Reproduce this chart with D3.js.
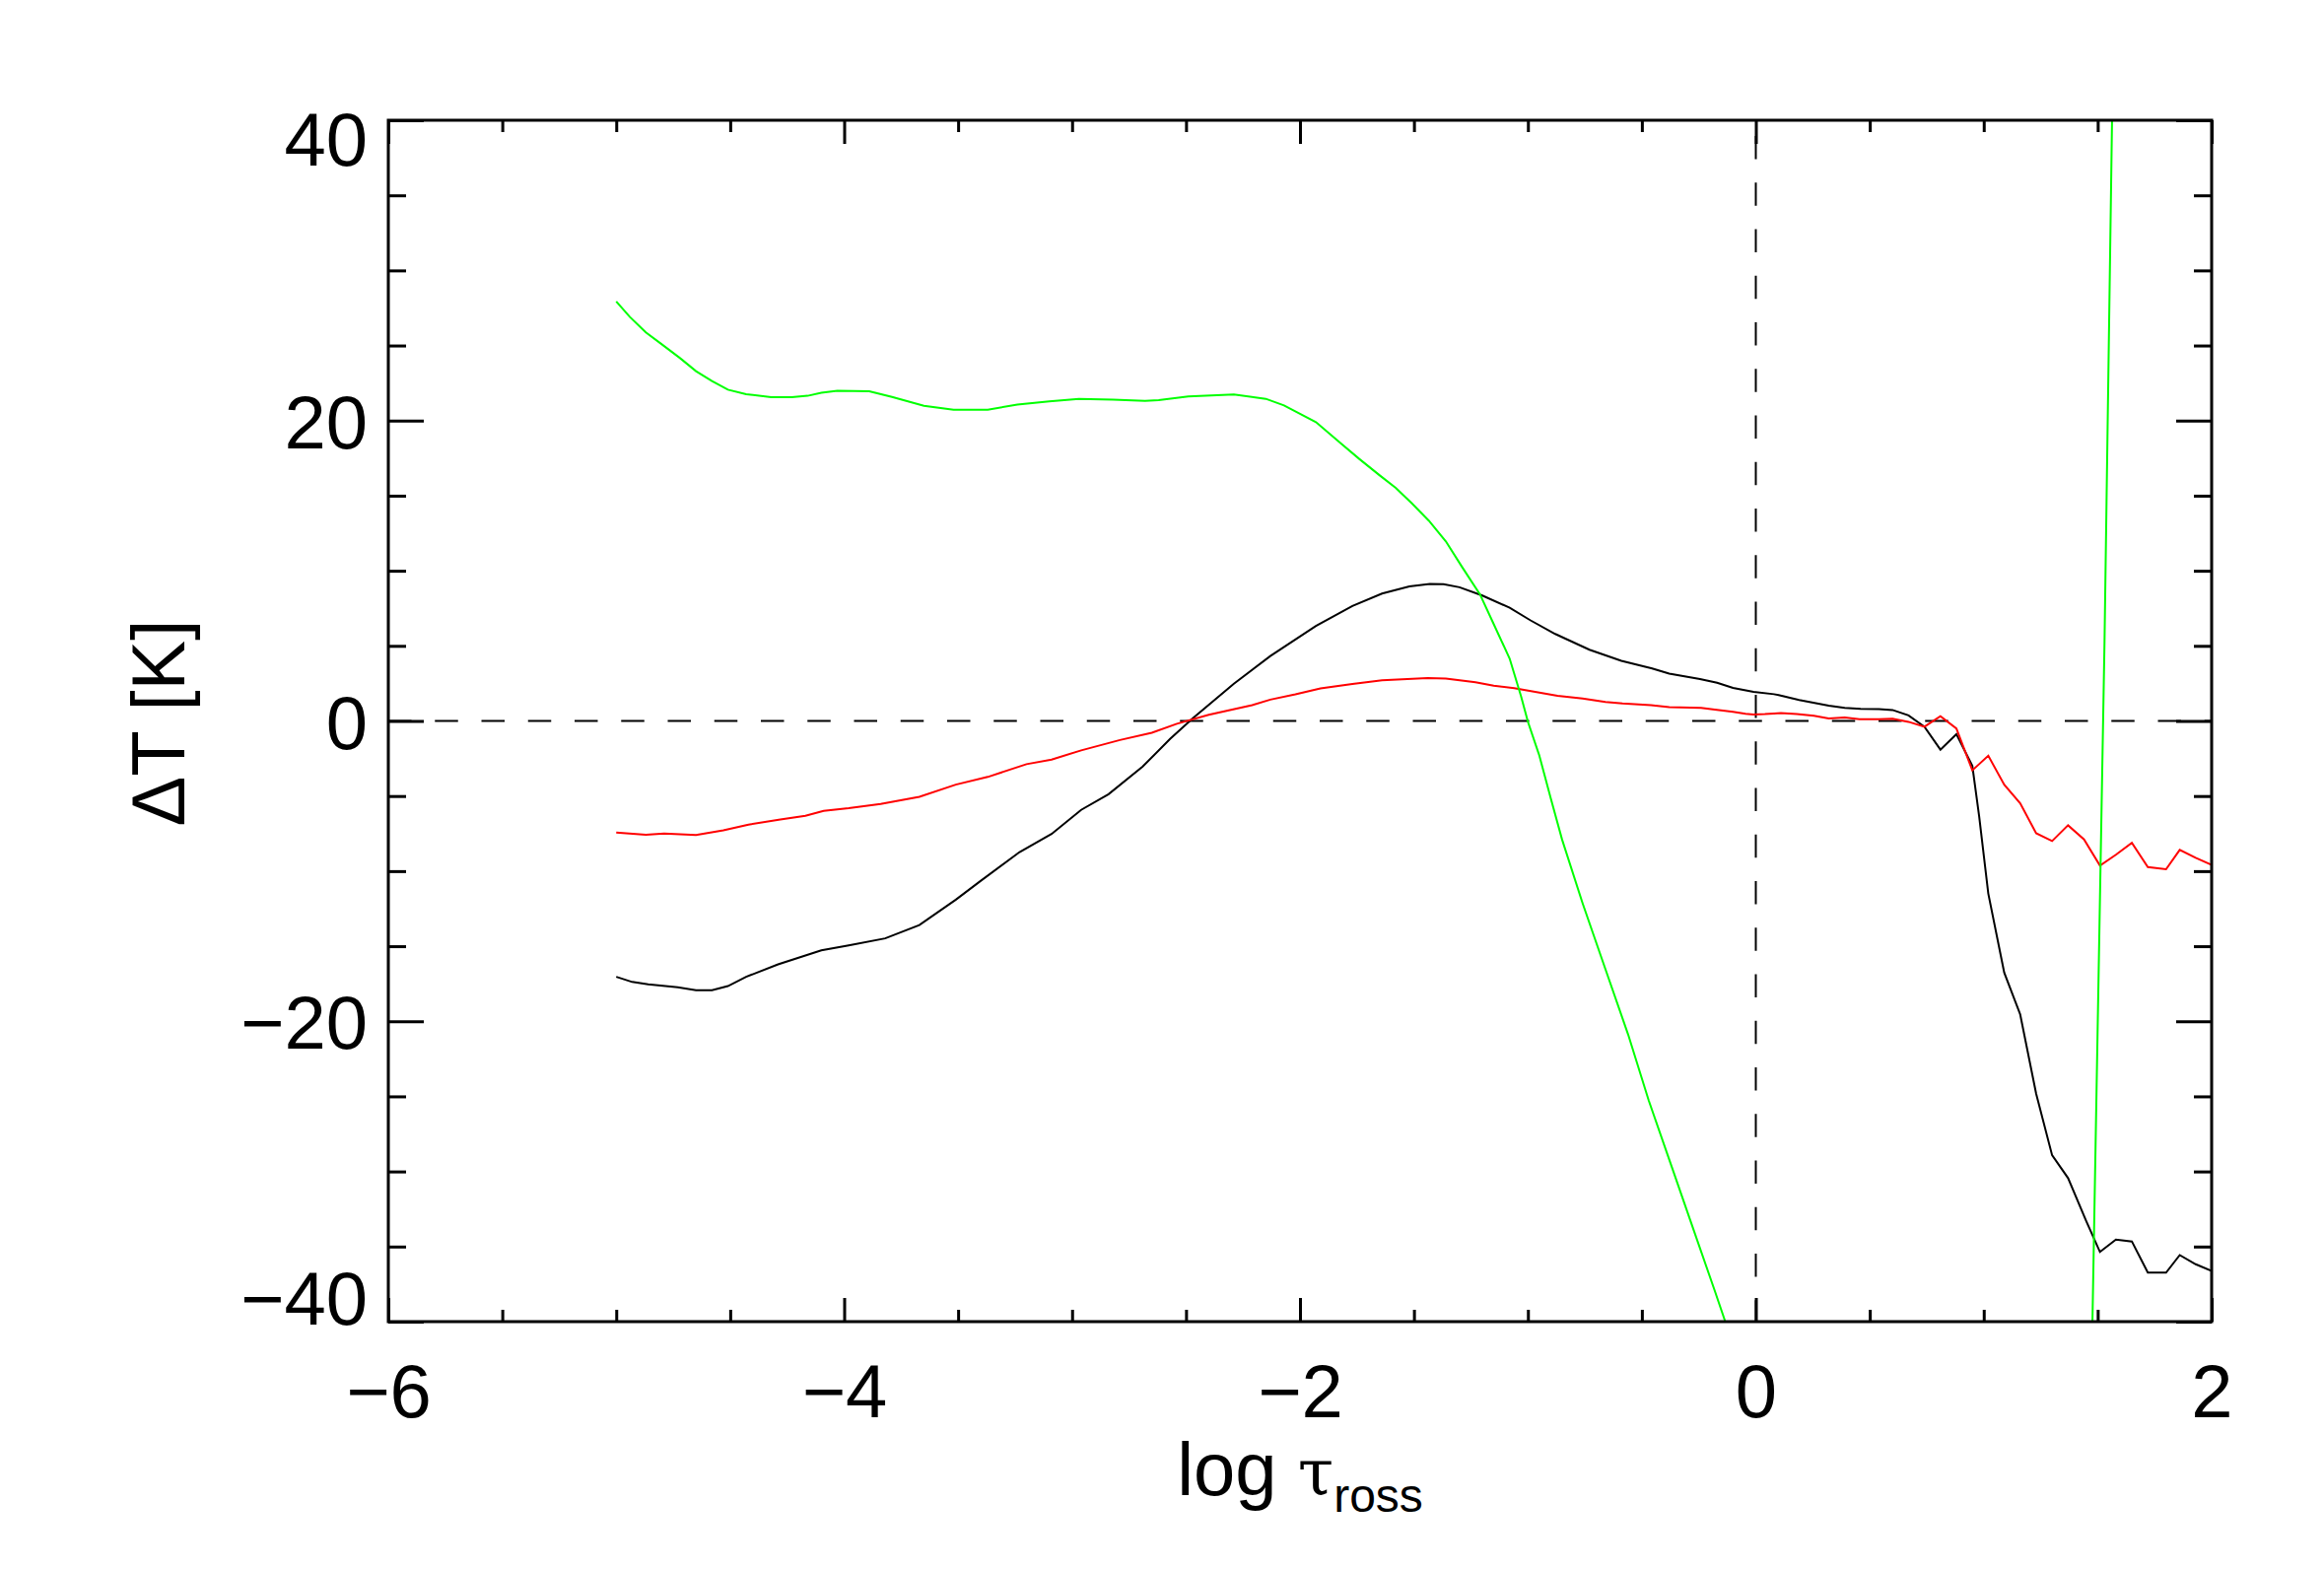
<!DOCTYPE html>
<html>
<head>
<meta charset="utf-8">
<script src="https://cdn.jsdelivr.net/npm/d3@7"></script>
<style>
  html, body { margin: 0; padding: 0; background: #ffffff; }
  svg { display: block; }
</style>
</head>
<body>
<svg id="chart" width="2358" height="1592"></svg>
<script>
// ---------------- data ----------------
const xDomain = [-6, 2];
const yDomain = [-40, 40];
const xMajorTicks = [-6, -4, -2, 0, 2];
const xMinorTicks = [-5.5, -5, -4.5, -3.5, -3, -2.5, -1.5, -1, -0.5, 0.5, 1, 1.5];
const yMajorTicks = [-40, -20, 0, 20, 40];
const yMinorTicks = [-35, -30, -25, -15, -10, -5, 5, 10, 15, 25, 30, 35];
const xLabelMain = "log ";
const xLabelGreek = "τ";
const xLabelSub = "ross";
const yLabel = "ΔT [K]";

// black series
const blackX = [-5.00, -4.93, -4.86, -4.73, -4.65, -4.58, -4.51, -4.43, -4.29, -4.10, -3.98, -3.82, -3.67, -3.51, -3.40, -3.23, -3.09, -2.96, -2.84, -2.69, -2.57, -2.47, -2.29, -2.13, -1.93, -1.77, -1.64, -1.52, -1.43, -1.37, -1.30, -1.20, -1.08, -0.99, -0.88, -0.73, -0.59, -0.455, -0.38, -0.245, -0.17, -0.10, -0.01, 0.08, 0.10, 0.19, 0.32, 0.39, 0.46, 0.54, 0.60, 0.67, 0.74, 0.81, 0.88, 0.95, 0.98, 1.02, 1.09, 1.16, 1.23, 1.30, 1.37, 1.45, 1.51, 1.58, 1.65, 1.72, 1.80, 1.86, 1.93, 2.00];
const blackY = [-17.04, -17.38, -17.54, -17.73, -17.93, -17.93, -17.66, -17.04, -16.21, -15.27, -14.94, -14.48, -13.59, -11.90, -10.64, -8.73, -7.53, -5.92, -4.88, -3.04, -1.20, 0.18, 2.48, 4.32, 6.32, 7.66, 8.48, 8.96, 9.12, 9.10, 8.90, 8.35, 7.54, 6.71, 5.79, 4.74, 4.00, 3.49, 3.15, 2.79, 2.54, 2.20, 1.94, 1.78, 1.72, 1.40, 1.02, 0.87, 0.81, 0.78, 0.73, 0.37, -0.39, -1.91, -0.88, -2.99, -6.36, -11.49, -16.76, -19.54, -24.82, -28.92, -30.44, -33.31, -35.36, -34.54, -34.66, -36.74, -36.74, -35.57, -36.18, -36.62];

// red series
const redX = [-5.00, -4.87, -4.79, -4.65, -4.53, -4.42, -4.28, -4.17, -4.09, -3.98, -3.84, -3.67, -3.51, -3.37, -3.20, -3.09, -2.96, -2.79, -2.65, -2.54, -2.40, -2.21, -2.13, -2.02, -1.91, -1.77, -1.64, -1.44, -1.36, -1.23, -1.15, -1.06, -0.87, -0.76, -0.66, -0.585, -0.46, -0.38, -0.24, -0.18, -0.10, -0.045, -0.01, 0.04, 0.08, 0.11, 0.18, 0.255, 0.32, 0.39, 0.455, 0.54, 0.60, 0.67, 0.74, 0.81, 0.88, 0.95, 1.02, 1.09, 1.16, 1.23, 1.30, 1.37, 1.44, 1.51, 1.58, 1.65, 1.72, 1.80, 1.86, 1.93, 2.00];
const redY = [-7.44, -7.58, -7.49, -7.60, -7.28, -6.91, -6.56, -6.31, -5.99, -5.81, -5.53, -5.05, -4.24, -3.73, -2.88, -2.58, -1.96, -1.27, -0.79, -0.19, 0.41, 1.05, 1.42, 1.77, 2.16, 2.46, 2.71, 2.85, 2.82, 2.58, 2.34, 2.18, 1.68, 1.50, 1.26, 1.16, 1.05, 0.92, 0.87, 0.76, 0.61, 0.48, 0.43, 0.46, 0.50, 0.52, 0.46, 0.35, 0.17, 0.23, 0.11, 0.11, 0.14, -0.06, -0.39, 0.32, -0.50, -3.29, -2.32, -4.25, -5.48, -7.48, -8.00, -6.95, -7.89, -9.64, -8.91, -8.12, -9.73, -9.88, -8.59, -9.12, -9.58];

// green series (null = part that runs below the plotted range)
const greenX = [-5.00, -4.94, -4.87, -4.80, -4.72, -4.65, -4.58, -4.51, -4.43, -4.32, -4.23, -4.16, -4.10, -4.03, -3.89, -3.79, -3.65, -3.52, -3.37, -3.24, -3.10, -2.97, -2.82, -2.68, -2.62, -2.49, -2.29, -2.15, -2.07, -1.93, -1.82, -1.74, -1.65, -1.58, -1.51, -1.435, -1.36, -1.29, -1.21, -1.15, -1.08, -1.03, -1.00, -0.95, -0.90, -0.85, -0.76, -0.66, -0.56, -0.47, -0.37, -0.27, -0.18, -0.134, 0.5, 1.477, 1.530, 1.563];
const greenY = [27.93, 26.90, 25.87, 25.08, 24.16, 23.29, 22.63, 22.06, 21.76, 21.56, 21.56, 21.65, 21.85, 21.98, 21.95, 21.58, 20.99, 20.73, 20.73, 21.06, 21.28, 21.45, 21.39, 21.32, 21.36, 21.60, 21.74, 21.45, 21.01, 19.90, 18.48, 17.45, 16.35, 15.52, 14.50, 13.34, 11.96, 10.28, 8.42, 6.45, 4.15, 1.64, -0.05, -2.30, -5.14, -7.90, -12.14, -16.52, -20.89, -25.27, -29.64, -34.02, -37.95, -40.0, null, -40.0, 5.3, 40.0];

// ---------------- drawing ----------------
const W = 2358, H = 1592;
const L = 394, R = 2244, T = 122, B = 1341;
const FONT = "'Liberation Sans', Arial, Helvetica, sans-serif";

const svg = d3.select("#chart");
svg.append("rect").attr("width", W).attr("height", H).attr("fill", "#ffffff");

const x = d3.scaleLinear().domain(xDomain).range([L, R]);
const y = d3.scaleLinear().domain(yDomain).range([B, T]);

svg.append("defs").append("clipPath").attr("id", "plotclip")
  .append("rect").attr("x", L).attr("y", T).attr("width", R - L).attr("height", B - T);

// dashed reference lines
svg.append("line")
  .attr("x1", L).attr("x2", R).attr("y1", y(0)).attr("y2", y(0))
  .attr("stroke", "#000").attr("stroke-width", 2)
  .attr("stroke-dasharray", "23.5,23.75").attr("stroke-dashoffset", 0);
svg.append("line")
  .attr("x1", x(0)).attr("x2", x(0)).attr("y1", T).attr("y2", B)
  .attr("stroke", "#000").attr("stroke-width", 2)
  .attr("stroke-dasharray", "23.5,23.75").attr("stroke-dashoffset", 31.25);

// series
const plot = svg.append("g").attr("clip-path", "url(#plotclip)");
const line = d3.line()
  .defined(d => d[1] !== null)
  .x(d => x(d[0])).y(d => y(d[1]));

function drawSeries(xs, ys, color) {
  const pts = xs.map((v, i) => [v, ys[i]]);
  plot.append("path").datum(pts)
    .attr("d", line)
    .attr("fill", "none")
    .attr("stroke", color)
    .attr("stroke-width", 2)
    .attr("stroke-linejoin", "miter");
}
drawSeries(blackX, blackY, "#000000");
drawSeries(redX, redY, "#ff0000");
drawSeries(greenX, greenY, "#00ff00");

// axes (ticks pointing inward)
const fmt = d3.format("d");
const XMAJ = 24, XMIN = 12, YMAJ = 36, YMIN = 18;

function styleAxis(g) {
  g.select(".domain").remove();
  g.selectAll(".tick line").attr("stroke", "#000").attr("stroke-width", 3);
  g.selectAll(".tick text").attr("fill", "#000")
    .attr("font-family", FONT).attr("font-size", 76);
}

// bottom
const gb = svg.append("g").attr("transform", `translate(0,${B})`)
  .call(d3.axisBottom(x).tickValues(xMajorTicks).tickSize(-XMAJ).tickFormat(fmt));
styleAxis(gb);
gb.selectAll(".tick text").attr("y", 97).attr("dy", 0);
const gbm = svg.append("g").attr("transform", `translate(0,${B})`)
  .call(d3.axisBottom(x).tickValues(xMinorTicks).tickSize(-XMIN).tickFormat(""));
styleAxis(gbm);

// top
const gt = svg.append("g").attr("transform", `translate(0,${T})`)
  .call(d3.axisTop(x).tickValues(xMajorTicks).tickSize(-XMAJ).tickFormat(""));
styleAxis(gt);
const gtm = svg.append("g").attr("transform", `translate(0,${T})`)
  .call(d3.axisTop(x).tickValues(xMinorTicks).tickSize(-XMIN).tickFormat(""));
styleAxis(gtm);

// left
const gl = svg.append("g").attr("transform", `translate(${L},0)`)
  .call(d3.axisLeft(y).tickValues(yMajorTicks).tickSize(-YMAJ).tickFormat(fmt));
styleAxis(gl);
gl.selectAll(".tick text")
  .attr("x", -21)
  .attr("dy", d => d === yDomain[1] ? 45 : (d === yDomain[0] ? 2 : 27.5))
  .attr("text-anchor", "end");
const glm = svg.append("g").attr("transform", `translate(${L},0)`)
  .call(d3.axisLeft(y).tickValues(yMinorTicks).tickSize(-YMIN).tickFormat(""));
styleAxis(glm);

// right
const gr = svg.append("g").attr("transform", `translate(${R},0)`)
  .call(d3.axisRight(y).tickValues(yMajorTicks).tickSize(-YMAJ).tickFormat(""));
styleAxis(gr);
const grm = svg.append("g").attr("transform", `translate(${R},0)`)
  .call(d3.axisRight(y).tickValues(yMinorTicks).tickSize(-YMIN).tickFormat(""));
styleAxis(grm);

// frame
svg.append("rect")
  .attr("x", L).attr("y", T).attr("width", R - L).attr("height", B - T)
  .attr("fill", "none").attr("stroke", "#000").attr("stroke-width", 3);

// axis titles
const xt = svg.append("text")
  .attr("x", (L + R) / 2).attr("y", 1517)
  .attr("text-anchor", "middle")
  .attr("font-family", FONT).attr("font-size", 76).attr("fill", "#000");
xt.append("tspan").text(xLabelMain);
xt.append("tspan").attr("font-family", "'DejaVu Serif', 'Liberation Serif', serif").attr("font-size", 66).text(xLabelGreek);
xt.append("tspan").attr("font-size", 48).attr("dy", 17).text(xLabelSub);

svg.append("text")
  .attr("transform", `translate(187,${(T + B) / 2 + 2}) rotate(-90)`)
  .attr("text-anchor", "middle")
  .attr("font-family", FONT).attr("font-size", 76).attr("fill", "#000")
  .text(yLabel);
</script>
</body>
</html>
